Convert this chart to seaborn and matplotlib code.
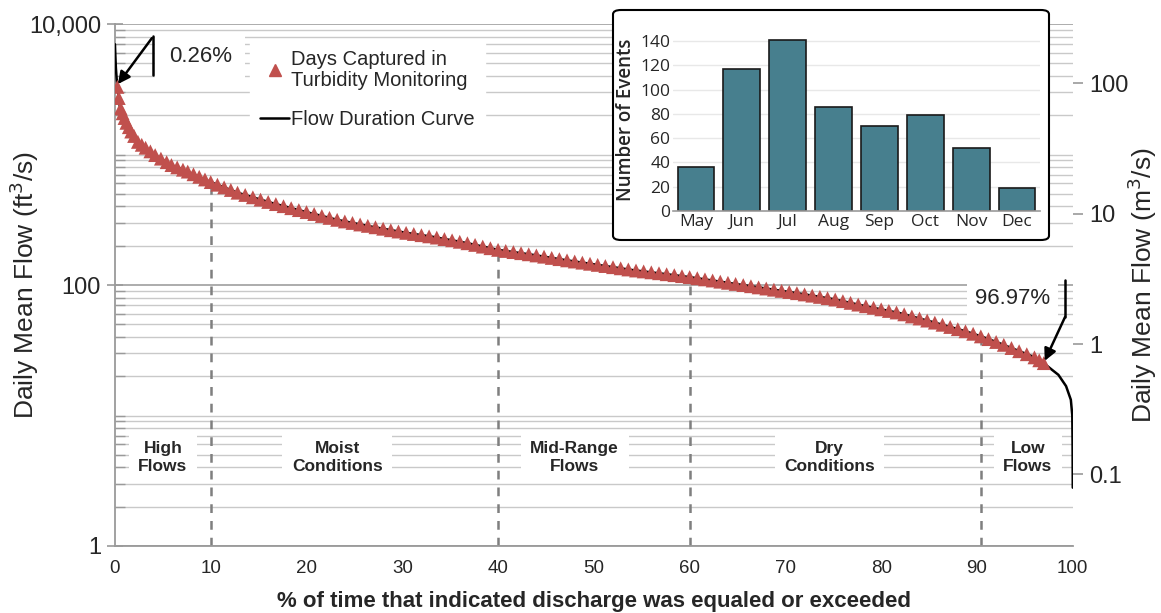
import numpy as np
import pandas as pd
import matplotlib
matplotlib.use("Agg")
import matplotlib.pyplot as plt
import matplotlib.transforms as mtransforms
import seaborn as sns
from matplotlib.lines import Line2D
from matplotlib.patches import FancyBboxPatch
from matplotlib.ticker import LogLocator, FixedLocator, FixedFormatter, NullFormatter

sns.set_style("white")
plt.rcParams['font.family'] = ['Liberation Sans', 'DejaVu Sans']

# Flow duration curve: exceedance percentage vs daily mean flow (ft3/s)
fdc_pct = [0.0, 0.05, 0.1, 0.18, 0.26, 0.5, 1.2, 1.7, 2.4, 4.2, 5.9, 7.6, 10.0,
           12.8, 16.4, 19.8, 23.3, 26.8, 30.3, 33.2, 36.7, 40.0, 43.7, 47.1,
           50.6, 54.1, 57.6, 60.0, 64.0, 68.0, 71.5, 75.0, 78.5, 81.9, 85.4,
           88.9, 90.6, 92.4, 94.1, 95.9, 97.0, 97.8, 98.5, 99.3, 99.8, 99.95,
           99.98, 100.0]
fdc_cfs = [7000, 5600, 4600, 3800, 3300, 2350, 1750, 1500, 1250, 990, 830, 740,
           615, 510, 425, 365, 315, 280, 252, 234, 210, 186, 170, 155, 142, 130,
           121, 115, 104, 94, 86, 78, 68.5, 61, 52, 44, 40, 35.7, 31.8, 28.2,
           25.1, 22.5, 20.5, 16.8, 13.2, 10.0, 6.0, 2.8]

# Days captured in turbidity monitoring, placed at their exceedance percentage
capt_pct = [0.26, 0.4, 0.6, 0.8, 1.0, 1.2, 1.45, 1.7, 2.0, 2.4, 2.8, 3.2, 3.7,
            4.2, 4.8, 5.4, 5.9, 6.5, 7.1, 7.6, 8.2, 8.8, 9.4, 10.0, 10.7, 11.4,
            12.1, 12.8, 13.6, 14.4, 15.2, 16.0, 16.8, 17.6, 18.4, 19.2, 20.0,
            20.8, 21.6, 22.4, 23.2, 24.0, 24.8, 25.6, 26.4, 27.2, 28.0, 28.8,
            29.6, 30.4, 31.2, 32.0, 32.8, 33.6, 34.4, 35.2, 36.0, 36.8, 37.6,
            38.4, 39.2, 40.0, 40.8, 41.6, 42.4, 43.2, 44.0, 44.8, 45.6, 46.4,
            47.2, 48.0, 48.8, 49.6, 50.4, 51.2, 52.0, 52.8, 53.6, 54.4, 55.2,
            56.0, 56.8, 57.6, 58.4, 59.2, 60.0, 60.8, 61.6, 62.4, 63.2, 64.0,
            64.8, 65.6, 66.4, 67.2, 68.0, 68.8, 69.6, 70.4, 71.2, 72.0, 72.8,
            73.6, 74.4, 75.2, 76.0, 76.8, 77.6, 78.4, 79.2, 80.0, 80.8, 81.6,
            82.4, 83.2, 84.0, 84.8, 85.6, 86.4, 87.2, 88.0, 88.8, 89.6, 90.4,
            91.2, 92.0, 92.8, 93.6, 94.4, 95.2, 96.0, 96.5, 96.97]
capt_cfs = [3300, 2710, 2255, 2070, 1905, 1750, 1620, 1500, 1387, 1250, 1187,
            1127, 1057, 990, 930, 874, 830, 797, 765, 740, 706, 675, 644, 615,
            587, 560, 535, 510, 490, 470, 451, 433, 417, 402, 388, 375, 362,
            350, 338, 327, 316, 307, 299, 291, 284, 277, 270, 263, 257, 251,
            246, 241, 236, 231, 225, 220, 214.5, 209, 203, 197, 191.5, 186,
            182.4, 178.8, 175.4, 172, 168.5, 164.9, 161.3, 157.9, 154.5, 151.4,
            148.4, 145.5, 142.7, 139.8, 137.0, 134.3, 131.6, 129.2, 127.1,
            125.1, 123.1, 121, 119.0, 117.0, 115, 112.8, 110.5, 108.3, 106.1,
            104, 101.9, 99.9, 97.9, 95.9, 94, 92.1, 90.2, 88.4, 86.6, 84.7,
            82.9, 81.1, 79.3, 77.4, 75.2, 73.0, 70.8, 68.8, 66.9, 65.1, 63.3,
            61.6, 59.6, 57.4, 55.4, 53.4, 51.5, 49.6, 47.7, 45.9, 44.2, 42.3,
            40.4, 38.5, 36.6, 34.8, 32.9, 31.1, 29.5, 27.9, 26.5, 25.2]

# Flow-zone boundaries and labels
zone_bounds = [10, 40, 60, 90.4]
zone_tops_cfs = [615, 186, 115, 40.4]
zone_labels = ["High\nFlows", "Moist\nConditions", "Mid-Range\nFlows",
               "Dry\nConditions", "Low\nFlows"]
zone_label_x = [5.0, 23.2, 48.0, 74.6, 95.3]

# Monthly count of captured events
months = ["May", "Jun", "Jul", "Aug", "Sep", "Oct", "Nov", "Dec"]
events = [36, 117, 141, 86, 70, 79, 52, 19]

CFS_TO_CMS = 0.0283168
RED = "#C0504D"
TEAL = "#477F8E"
GRID = "#c9c9c9"
AXGRAY = "#9a9a9a"

fdc = pd.DataFrame({"pct": fdc_pct, "cfs": fdc_cfs})
capt = pd.DataFrame({"pct": capt_pct, "cfs": capt_cfs})
monthly = pd.DataFrame({"month": months, "events": events})

fig = plt.figure(figsize=(11.61, 6.13), dpi=100)
ax = fig.add_axes([0.099, 0.1093, 0.825, 0.8515])
ax.set_yscale("log")
ax.set_xlim(0, 100)
ax.set_ylim(1, 10000)

# Gridlines: every 1-9 x decade, heavier at 1/100/10,000
ax.yaxis.set_major_locator(FixedLocator([1, 100, 10000]))
ax.yaxis.set_major_formatter(FixedFormatter(["1", "100", "10,000"]))
ax.yaxis.set_minor_locator(LogLocator(base=10, subs=np.arange(1, 10)))
ax.yaxis.set_minor_formatter(NullFormatter())
ax.set_axisbelow(True)
ax.grid(which="major", axis="y", color="#a6a6a6", lw=1.3)
ax.grid(which="minor", axis="y", color=GRID, lw=1.0)
ax.grid(False, axis="x")

ax.set_xticks(range(0, 101, 10))
ax.tick_params(axis="x", which="major", direction="inout", length=8, width=1.2,
               color=AXGRAY, labelsize=13.5, pad=6)
ax.tick_params(axis="y", which="major", direction="inout", length=12, width=1.2,
               color=AXGRAY, labelsize=17, pad=4)
ax.tick_params(axis="y", which="minor", direction="in", length=7, width=1.0,
               color=AXGRAY)
for s in ["top", "right"]:
    ax.spines[s].set_visible(False)
for s in ["left", "bottom"]:
    ax.spines[s].set_color(AXGRAY)
    ax.spines[s].set_linewidth(1.3)

# Flow-zone dividers
for xb, top in zip(zone_bounds, zone_tops_cfs):
    ax.plot([xb, xb], [1, top], color="#7f7f7f", lw=1.8,
            linestyle=(0, (3.5, 3.2)), zorder=2.5)

# Flow-zone labels on white boxes
label_tr = mtransforms.blended_transform_factory(ax.transData, ax.transAxes)
for xl, txt in zip(zone_label_x, zone_labels):
    ax.text(xl, 0.17, txt, transform=label_tr, ha="center", va="center",
            fontsize=12.5, fontweight="bold", linespacing=1.25, zorder=2,
            bbox=dict(boxstyle="square,pad=0.55", fc="white", ec="none"))

# Curve and captured days
sns.lineplot(data=fdc, x="pct", y="cfs", color="black", lw=1.8, sort=False,
             ax=ax, zorder=3, legend=False)
sns.scatterplot(data=capt, x="pct", y="cfs", marker="^", color=RED, s=100,
                edgecolor="none", ax=ax, zorder=4, legend=False)

ax.set_xlabel("% of time that indicated discharge was equaled or exceeded",
              fontsize=16, fontweight="bold", labelpad=10)
ax.set_ylabel("Daily Mean Flow (ft$^3$/s)", fontsize=19)
ax.yaxis.set_label_coords(-0.077, 0.5)

# Callouts for first and last captured days
ax.text(8.9, 5600, "0.26%", ha="center", va="center", fontsize=16, zorder=5,
        bbox=dict(boxstyle="square,pad=0.6", fc="white", ec="none"))
ax.plot([3.97, 3.97], [8100, 4050], color="black", lw=1.8, zorder=6)
ax.annotate("", xy=(capt_pct[0] + 0.05, capt_cfs[0] * 1.05),
            xytext=(3.86, 7800),
            arrowprops=dict(arrowstyle="-|>", color="black", lw=1.8,
                            mutation_scale=18, shrinkA=0, shrinkB=0), zorder=6)

ax.text(93.7, 79, "96.97%", ha="center", va="center", fontsize=16, zorder=5,
        bbox=dict(boxstyle="square,pad=0.35", fc="white", ec="none"))
ax.plot([99.2, 99.2], [109, 57], color="black", lw=1.8, zorder=6)
ax.annotate("", xy=(capt_pct[-1] + 0.1, capt_cfs[-1] * 1.04),
            xytext=(99.2, 57),
            arrowprops=dict(arrowstyle="-|>", color="black", lw=1.8,
                            mutation_scale=18, shrinkA=0, shrinkB=0), zorder=6)

# Legend
handles = [Line2D([], [], marker="^", color=RED, linestyle="none", markersize=8),
           Line2D([], [], color="black", lw=1.8)]
leg = ax.legend(handles, ["Days Captured in\nTurbidity Monitoring",
                          "Flow Duration Curve"],
                loc="upper left", bbox_to_anchor=(250 / 1161, 1 - 40 / 613),
                bbox_transform=fig.transFigure, fontsize=14.5, frameon=True,
                fancybox=False, framealpha=1, facecolor="white",
                edgecolor="white", handlelength=1.45, handletextpad=0.1,
                labelspacing=1.0, borderpad=0.5, borderaxespad=0)
for t in leg.get_texts():
    t.set_linespacing(1.12)
leg.set_zorder(5)

# Right-hand axis in m3/s
ax2 = ax.twinx()
ax2.set_yscale("log")
ax2.set_ylim(1 * CFS_TO_CMS, 10000 * CFS_TO_CMS)
ax2.yaxis.set_major_locator(FixedLocator([0.1, 1, 10, 100]))
ax2.yaxis.set_major_formatter(FixedFormatter(["0.1", "1", "10", "100"]))
ax2.yaxis.set_minor_locator(FixedLocator([]))
ax2.tick_params(axis="y", which="major", direction="out", length=7, width=1.2,
                color=AXGRAY, labelsize=17, pad=5)
for s in ax2.spines.values():
    s.set_visible(False)
ax2.set_ylabel("Daily Mean Flow (m$^3$/s)", fontsize=19)
ax2.yaxis.set_label_coords(1.055, 0.5)

# Inset: monthly events
frame = FancyBboxPatch((613 / 1161, 1 - 240 / 613), 436 / 1161, 230 / 613,
                       boxstyle="round,pad=0,rounding_size=0.007",
                       transform=fig.transFigure, fc="white", ec="black",
                       lw=1.5, zorder=2)
fig.add_artist(frame)

iax = fig.add_axes([0.5797, 0.6558, 0.3161, 0.297])
iax.set_zorder(3)
sns.barplot(data=monthly, x="month", y="events", color=TEAL, saturation=1,
            edgecolor="#1a1a1a", linewidth=1.2, width=0.8, ax=iax)
iax.set_ylim(0, 150)
iax.set_yticks(range(0, 141, 20))
iax.set_axisbelow(True)
iax.grid(axis="y", color="#e8e8e8", lw=1.0)
iax.grid(False, axis="x")
for s in ["top", "right", "left"]:
    iax.spines[s].set_visible(False)
iax.spines["bottom"].set_color(AXGRAY)
iax.spines["bottom"].set_linewidth(1.2)
iax.tick_params(length=0, pad=2)
for lab in iax.get_xticklabels() + iax.get_yticklabels():
    lab.set_fontfamily(["Open Sans", "DejaVu Sans"])
    lab.set_fontsize(12.5)
iax.set_xlabel("")
iax.set_ylabel("Number of Events", fontsize=13.5, fontweight="semibold",
               family=["Open Sans", "DejaVu Sans"], labelpad=3)

fig.savefig("out.png", dpi=100)
